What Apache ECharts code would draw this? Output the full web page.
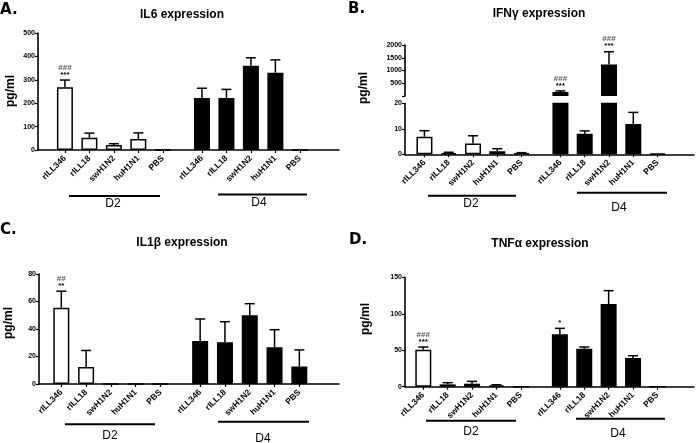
<!DOCTYPE html>
<html><head><meta charset="utf-8">
<script src="https://cdn.jsdelivr.net/npm/echarts@6/dist/echarts.min.js"></script>
<style>html,body{margin:0;padding:0;background:#fff}#c{width:696px;height:443px}</style>
</head><body><div id="c"></div>
<script>
// ---- data ----
const categories = ['rILL346', 'rILL18', 'swH1N2', 'huH1N1', 'PBS'];
const groups = ['D2', 'D4'];

const il6D2 = [268, 52, 21, 47, 0];
const il6D2Err = [31, 20, 6, 26, 0];
const il6D4 = [222, 222, 360, 330, 0];
const il6D4Err = [42, 37, 34, 55, 0];
const il6Ann = ['###\n***', '', '', '', '', '', '', '', '', ''];

const ifngD2 = [6.9, 0.5, 4.3, 1.2, 0.4];
const ifngD2Err = [2.4, 0.3, 3.0, 1.0, 0.25];
const ifngD4 = [155, 8.1, 1240, 11.9, 0.3];
const ifngD4Err = [45, 1.1, 495, 4.6, 0];
const ifngAnn = ['', '', '', '', '', '###\n***', '', '###\n***', '', ''];

const il1bD2 = [55.5, 12.4, 0, 0, 0];
const il1bD2Err = [12, 12, 0, 0, 0];
const il1bD4 = [31.3, 30.3, 50, 26.7, 12.8];
const il1bD4Err = [16, 15, 8.4, 12.8, 12];
const il1bAnn = ['##\n**', '', '', '', '', '', '', '', '', ''];

const tnfD2 = [50.8, 3.2, 4.1, 1.8, 0];
const tnfD2Err = [3.6, 2.3, 3.2, 0.9, 0];
const tnfD4 = [71.8, 52, 113.4, 39.3, 0];
const tnfD4Err = [8.2, 2.4, 18.3, 3.2, 0];
const tnfAnn = ['###\n***', '', '', '', '', '*', '', '', '', ''];

// ---- layout ----
const GAP = 1.6;
const FONT = '"Liberation Sans", Arial, sans-serif';
const positions = [];
groups.forEach((g, gi) => categories.forEach((c, i) => positions.push(gi === 0 ? i : 4 + GAP + i)));

function labelFor(v) {
  const idx = positions.findIndex(p => Math.abs(p - v) < 1e-6);
  return idx < 0 ? '' : categories[idx % categories.length];
}

const grids = [], xAxes = [], yAxes = [], series = [];
const yLabel = {margin: 3, color: '#000', fontWeight: 'bold', fontSize: 7, fontFamily: FONT};

function addAxes(grid, xr, yCfg, showX) {
  grids.push(grid);
  const gi = grids.length - 1;
  xAxes.push({
    gridIndex: gi, type: 'value', min: xr[0], max: xr[1], show: showX,
    splitLine: {show: false},
    axisLine: {show: true, onZero: false, lineStyle: {color: '#000', width: 1.6}},
    axisTick: {show: true, customValues: positions, length: 3, lineStyle: {color: '#000', width: 1.2}},
    axisLabel: {customValues: positions, formatter: labelFor, rotate: 45, margin: 7,
      color: '#000', fontWeight: 'bold', fontSize: 8.5, fontFamily: FONT}
  });
  yAxes.push(Object.assign({
    gridIndex: gi, type: 'value', splitLine: {show: false},
    axisLine: {show: true, onZero: false, lineStyle: {color: '#000', width: 1.6}},
    axisTick: {show: true, length: 3, lineStyle: {color: '#000', width: 1.2}},
    axisLabel: yLabel
  }, yCfg));
  return gi;
}

function renderErr(ann, filter) {
  return function (params, api) {
    const x = api.value(0), y = api.value(1), e = api.value(2);
    const children = [];
    if (!filter(y)) return {type: 'group', children};
    const base = api.coord([x, y]);
    const top = api.coord([x, y + e]);
    if (e > 0) {
      children.push({type: 'line', shape: {x1: base[0], y1: base[1], x2: top[0], y2: top[1]},
        style: {stroke: '#000', lineWidth: 1.5}});
      children.push({type: 'line', shape: {x1: top[0] - 5, y1: top[1], x2: top[0] + 5, y2: top[1]},
        style: {stroke: '#000', lineWidth: 1.5}});
    }
    const a = ann[params.dataIndex];
    if (a) {
      const lines = a.split('\n').map(l => (l.indexOf('#') >= 0 ? '{h|' : '{s|') + l + '}');
      children.push({type: 'text', x: top[0], y: top[1] - 2,
        style: {text: lines.join('\n'), align: 'center', verticalAlign: 'bottom',
          font: 'bold 8px ' + FONT, lineHeight: 7,
          rich: {h: {fill: '#555', fontSize: 8, fontWeight: 'bold', lineHeight: 7},
                 s: {fill: '#000', fontSize: 8, fontWeight: 'bold', lineHeight: 7}}}});
    }
    return {type: 'group', children};
  };
}

function addSeries(gi, d2, d2e, d4, d4e, ann, barFilter, errFilter) {
  const vals = d2.concat(d4), errs = d2e.concat(d4e);
  const keep = v => (barFilter(v) ? v : '-');
  series.push({type: 'bar', xAxisIndex: gi, yAxisIndex: gi, barWidth: 16, barGap: '-100%', clip: true,
    data: d2.map((v, i) => [positions[i], keep(v)]),
    itemStyle: {color: '#fff', borderColor: '#000', borderWidth: 1.5}, silent: true});
  series.push({type: 'bar', xAxisIndex: gi, yAxisIndex: gi, barWidth: 16, barGap: '-100%', clip: true,
    data: d4.map((v, i) => [positions[i + 5], keep(v)]),
    itemStyle: {color: '#000', borderColor: '#000', borderWidth: 1.5}, silent: true});
  series.push({type: 'custom', xAxisIndex: gi, yAxisIndex: gi, z: 5, silent: true,
    renderItem: renderErr(ann, errFilter),
    data: vals.map((v, i) => [positions[i], v, errs[i]])});
}

const all = () => true;

// Panel A
let g = addAxes({left: 38, right: 357, top: 33, bottom: 293}, [-1.1, 11.2],
  {min: 0, max: 500, interval: 100}, true);
addSeries(g, il6D2, il6D2Err, il6D4, il6D4Err, il6Ann, all, all);

// Panel B (broken axis)
const LOW_MAX = 20;
g = addAxes({left: 405, right: 2, top: 45, bottom: 347}, [-0.8, 11.1],
  {min: 0, max: 2000, interval: 500, axisLabel: Object.assign({}, yLabel, {formatter: v => (v === 0 ? '' : String(v))})}, false);
addSeries(g, ifngD2, ifngD2Err, ifngD4, ifngD4Err, ifngAnn, v => v > LOW_MAX, v => v > LOW_MAX);
g = addAxes({left: 405, right: 2, top: 103.5, bottom: 288.7}, [-0.8, 11.1],
  {min: 0, max: LOW_MAX, interval: 10}, true);
addSeries(g, ifngD2, ifngD2Err, ifngD4, ifngD4Err, ifngAnn.map(() => ''), all, v => v <= LOW_MAX);

// Panel C
g = addAxes({left: 39, right: 357, top: 274, bottom: 59}, [-0.9, 11.2],
  {min: 0, max: 80, interval: 20}, true);
addSeries(g, il1bD2, il1bD2Err, il1bD4, il1bD4Err, il1bAnn, all, all);

// Panel D
g = addAxes({left: 405, right: 2, top: 277.3, bottom: 56.3}, [-0.75, 11.1],
  {min: 0, max: 150, interval: 50}, true);
addSeries(g, tnfD2, tnfD2Err, tnfD4, tnfD4Err, tnfAnn, all, all);

// ---- annotations (text, group underlines) ----
const graphic = [];
function txt(s, x, y, font, extra) {
  graphic.push(Object.assign({type: 'text', x, y,
    style: {text: s, font, fill: '#000', align: 'center', verticalAlign: 'middle'}}, extra || {}));
}
function hline(x1, x2, y) {
  graphic.push({type: 'line', shape: {x1, y1: y, x2, y2: y}, style: {stroke: '#000', lineWidth: 2}});
}
const letterFont = 'bold 15px "DejaVu Sans", sans-serif';
const titleFont = 'bold 12px ' + FONT;
const nameFont = 'bold 12px ' + FONT;
const grpFont = '12px ' + FONT;
function letter(s, x, y) {
  graphic.push({type: 'text', x, y, style: {text: s, font: letterFont, fill: '#000', align: 'left', verticalAlign: 'middle'}});
}
letter('A.', 0, 10); letter('B.', 348, 9); letter('C.', 0, 230); letter('D.', 349, 240);
txt('IL6 expression', 182, 15, titleFont);
txt('IFNγ expression', 539, 14, titleFont);
txt('IL1β expression', 182, 242.5, titleFont);
txt('TNFα expression', 540, 244, titleFont);
const rot = {rotation: Math.PI / 2};
txt('pg/ml', 11, 91, nameFont, rot);
txt('pg/ml', 364, 88, nameFont, rot);
txt('pg/ml', 9, 323, nameFont, rot);
txt('pg/ml', 366, 319, nameFont, rot);
hline(69, 160, 196); txt(groups[0], 113, 203.5, grpFont);
hline(218, 307, 194.5); txt(groups[1], 259, 203, grpFont);
hline(428, 516, 195.7); txt(groups[0], 471, 204, grpFont);
hline(577, 667, 192.7); txt(groups[1], 619, 208, grpFont);
hline(65, 155, 424.3); txt(groups[0], 110, 435.7, grpFont);
hline(218, 309, 421.7); txt(groups[1], 263, 438.3, grpFont);
hline(426, 516, 420.7); txt(groups[0], 471, 431.7, grpFont);
hline(576, 665, 418.7); txt(groups[1], 618, 434, grpFont);

const chart = echarts.init(document.getElementById('c'), null, {renderer: 'canvas'});
chart.setOption({
  animation: false,
  backgroundColor: '#fff',
  grid: grids,
  xAxis: xAxes,
  yAxis: yAxes,
  series: series,
  graphic: graphic
});
</script>
</body></html>
